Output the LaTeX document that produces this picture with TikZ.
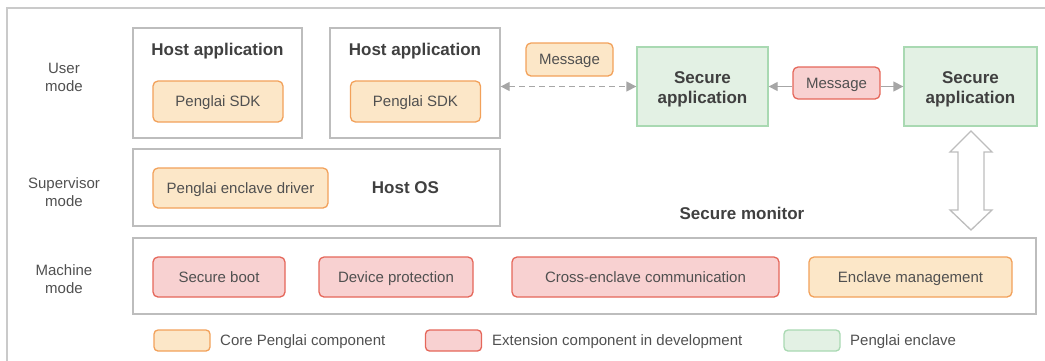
\documentclass[tikz,border=0pt]{standalone}
\usepackage{fontspec}
\setmainfont{Liberation Sans}
\usetikzlibrary{arrows.meta}
\definecolor{orfill}{HTML}{FCE7C8}
\definecolor{ordraw}{HTML}{F2A15A}
\definecolor{rdfill}{HTML}{F8D1D1}
\definecolor{rddraw}{HTML}{E5675A}
\definecolor{grfill}{HTML}{E3F1E4}
\definecolor{grdraw}{HTML}{A9D9B2}
\definecolor{boxline}{HTML}{BDBDBD}
\definecolor{txt}{HTML}{505050}
\definecolor{btxt}{HTML}{404040}
\definecolor{arrgray}{HTML}{A6A6A6}
\tikzset{
  reg/.style={font=\fontsize{15}{18}\selectfont, text=txt, align=center, inner sep=0pt},
  one/.style={text height=10.7pt, text depth=0pt},
  ttl/.style={font=\fontsize{17}{20}\selectfont\bfseries, text=btxt, align=center, inner sep=0pt},
  frame/.style={draw=boxline, line width=1.3pt, fill=white, inner sep=0pt},
  core/.style={reg, one, draw=ordraw, fill=orfill, line width=1.3pt, rounded corners=5pt},
  ext/.style={reg, one, draw=rddraw, fill=rdfill, line width=1.3pt, rounded corners=5pt},
  encl/.style={draw=grdraw, fill=grfill, line width=1.3pt, inner sep=0pt},
  legbox/.style={line width=1.3pt, rounded corners=4pt, minimum width=56pt, minimum height=21pt, inner sep=0pt},
  arr/.style={draw=arrgray, line width=1.3pt, -{Triangle[length=10pt,width=10pt]}},
}
\begin{document}
\begin{tikzpicture}[x=1pt,y=-1pt]
\useasboundingbox (0,0) rectangle (1045,360);
% outer frame
\draw[draw=boxline!80, line width=1.3pt] (7,362) -- (7,8) -- (1047,8);

% mode labels
\node[reg] (um) at (64,77) {User\\mode};
\node[reg] (sm) at (64,192) {Supervisor\\mode};
\node[reg] (mm) at (64,279) {Machine\\mode};

% host applications
\node[frame, minimum width=169pt, minimum height=110pt] (ha1) at (217.5,83) {};
\node[ttl, one] (ha1t) at (217.5,50) {Host application};
\node[core, minimum width=130pt, minimum height=41pt] (sdk1) at (218,101.5) {Penglai SDK};
\node[frame, minimum width=170pt, minimum height=110pt] (ha2) at (415,83) {};
\node[ttl, one] (ha2t) at (415,50) {Host application};
\node[core, minimum width=130pt, minimum height=41pt] (sdk2) at (415.5,101.5) {Penglai SDK};

% host OS
\node[frame, minimum width=367pt, minimum height=77pt] (hos) at (316.5,187.5) {};
\node[core, minimum width=175pt, minimum height=40pt] (drv) at (240.5,188) {Penglai enclave driver};
\node[ttl, one] (host) at (405.5,188) {Host OS};

% secure applications
\node[encl, minimum width=131pt, minimum height=79pt] (sa1) at (702.5,86.5) {};
\node[ttl] (sa1t) at (702.5,89) {Secure\\application};
\node[encl, minimum width=133pt, minimum height=79pt] (sa2) at (970.5,86.5) {};
\node[ttl] (sa2t) at (970.5,89) {Secure\\application};

% messages
\node[core, minimum width=87pt, minimum height=33pt] (msg1) at (569.5,59.5) {Message};
\node[ext, minimum width=87pt, minimum height=32pt] (msg2) at (836.5,83) {Message};

\draw[arr, dashed, dash pattern=on 6pt off 4pt, {Triangle[length=9pt,width=9pt]}-{Triangle[length=10pt,width=10pt]}] (ha2.east |- sa1.west) -- (sa1.west);
\draw[arr, -{Triangle[length=9pt,width=9pt]}] (msg2.west |- sa1.east) -- (sa1.east);
\draw[arr] (msg2.east |- sa2.west) -- (sa2.west);

% secure monitor
\node[ttl, one] (smon) at (742,214) {Secure monitor};
\node[frame, minimum width=903pt, minimum height=76pt] (mach) at (584.5,276) {};
\node[ext, minimum width=132pt, minimum height=40pt] (sb) at (219,277) {Secure boot};
\node[ext, minimum width=154pt, minimum height=40pt] (dp) at (396,277) {Device protection};
\node[ext, minimum width=267pt, minimum height=40pt] (cec) at (645.5,277) {Cross-enclave communication};
\node[core, minimum width=203pt, minimum height=40pt] (em) at (910.5,277) {Enclave management};

% double arrow between secure app 2 and machine box
\coordinate (dtop) at (971,131);
\coordinate (dbot) at (971,230);
\draw[draw=boxline, line width=1.3pt, fill=white, line join=miter]
  (dtop) -- ++(21,21) -- ++(-8,0) -- (984,210) -- ++(8,0) -- (dbot) -- ++(-21,-20) -- ++(8,0) -- (958,152) -- ++(-8,0) -- cycle;

% legend
\node[legbox, draw=ordraw, fill=orfill] (l1) at (182,340.5) {};
\node[reg, one, anchor=west] (l1t) at (220,340.5) {Core Penglai component};
\node[legbox, draw=rddraw, fill=rdfill] (l2) at (453.5,340.5) {};
\node[reg, one, anchor=west] (l2t) at (492,340.5) {Extension component in development};
\node[legbox, draw=grdraw, fill=grfill] (l3) at (812,340.5) {};
\node[reg, one, anchor=west] (l3t) at (850,340.5) {Penglai enclave};
\end{tikzpicture}
\end{document}
